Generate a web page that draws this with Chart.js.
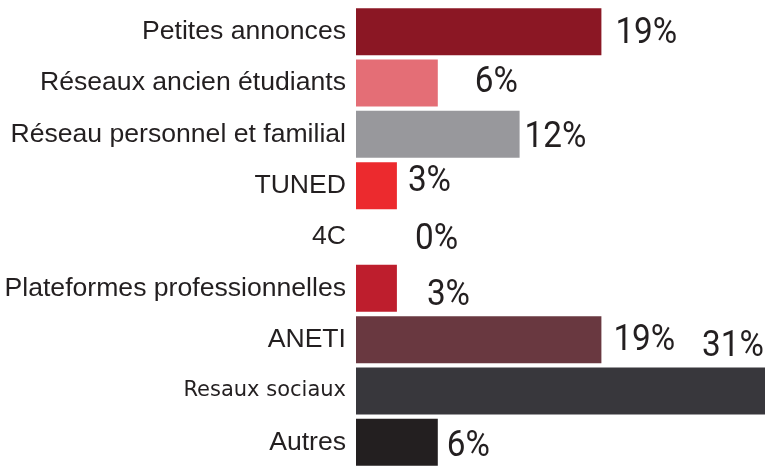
<!DOCTYPE html>
<html>
<head>
<meta charset="utf-8">
<script src="https://cdn.jsdelivr.net/npm/chart.js@4/dist/chart.umd.min.js"></script>
<style>
    html, body { margin: 0; padding: 0; background: #ffffff; }
    #wrap { width: 765px; height: 470px; position: relative; }
</style>
</head>
<body>
<div id="wrap"><canvas id="chart"></canvas></div>
<script>
// Données (en %, calculées sur 32 réponses)
const categories = [
    'Petites annonces',
    'Réseaux ancien étudiants',
    'Réseau personnel et familial',
    'TUNED',
    '4C',
    'Plateformes professionnelles',
    'ANETI',
    'Resaux sociaux',
    'Autres'
];
const values = [18.75, 6.25, 12.5, 3.125, 0, 3.125, 18.75, 31.25, 6.25];
const valueLabels = ['19%', '6%', '12%', '3%', '0%', '3%', '19%', '31%', '6%'];

const barColors = ['#8b1724', '#e46e76', '#98989c', '#ec2a2e', '#ffffff', '#be1e2d', '#693840', '#38373c', '#231f20'];
// décalage des étiquettes [dx, dy] par rapport au bout de la barre
const labelOffsets = [[14, 2], [37, 0], [5, 3], [11, -4], [59, 3], [30, 7], [12, 1], [-63, -44], [9, 4]];

const valueLabelPlugin = {
    id: 'valueLabels',
    afterDatasetsDraw: (chart) => {
        const ctx = chart.ctx;
        const meta = chart.getDatasetMeta(0);
        meta.data.forEach((bar, i) => {
            const off = labelOffsets[i];
            ctx.save();
            ctx.translate(bar.x + off[0], bar.y + off[1]);
            ctx.scale(0.9, 1); // police étroite
            ctx.font = '37px "Liberation Sans Narrow", "Roboto", sans-serif';
            ctx.fillStyle = '#231f20';
            ctx.textAlign = 'left';
            ctx.textBaseline = 'middle';
            ctx.fillText(valueLabels[i], 0, 0);
            ctx.restore();
        });
    }
};

const config = {
    type: 'bar',
    data: {
        labels: categories,
        datasets: [{
            data: values,
            backgroundColor: barColors,
            borderColor: barColors.map(c => c === '#ffffff' ? '#e6e6e6' : c),
            borderWidth: values.map(v => v === 0 ? { left: 1 } : 0),
            borderSkipped: false,
            barPercentage: 0.915,
            categoryPercentage: 1
        }]
    },
    options: {
        indexAxis: 'y',
        responsive: true,
        maintainAspectRatio: false,
        animation: false,
        layout: {
            padding: { top: 6, bottom: 2, left: 0, right: 0 }
        },
        plugins: {
            legend: { display: false },
            tooltip: { enabled: false }
        },
        scales: {
            x: {
                display: false,
                min: 0,
                max: 31.25
            },
            y: {
                border: { display: false },
                grid: { display: false, drawTicks: false },
                afterFit: (scale) => {
                    scale.width = 356;
                    scale.paddingTop = 0;
                    scale.paddingBottom = 0;
                },
                ticks: {
                    padding: 10,
                    color: '#231f20',
                    font: (c) => c.index === 7
                        ? { family: '"DejaVu Sans", sans-serif', size: 21 }
                        : { family: '"Liberation Sans", sans-serif', size: 26.6 }
                }
            }
        }
    },
    plugins: [valueLabelPlugin]
};

new Chart(document.getElementById('chart'), config);
</script>
</body>
</html>
